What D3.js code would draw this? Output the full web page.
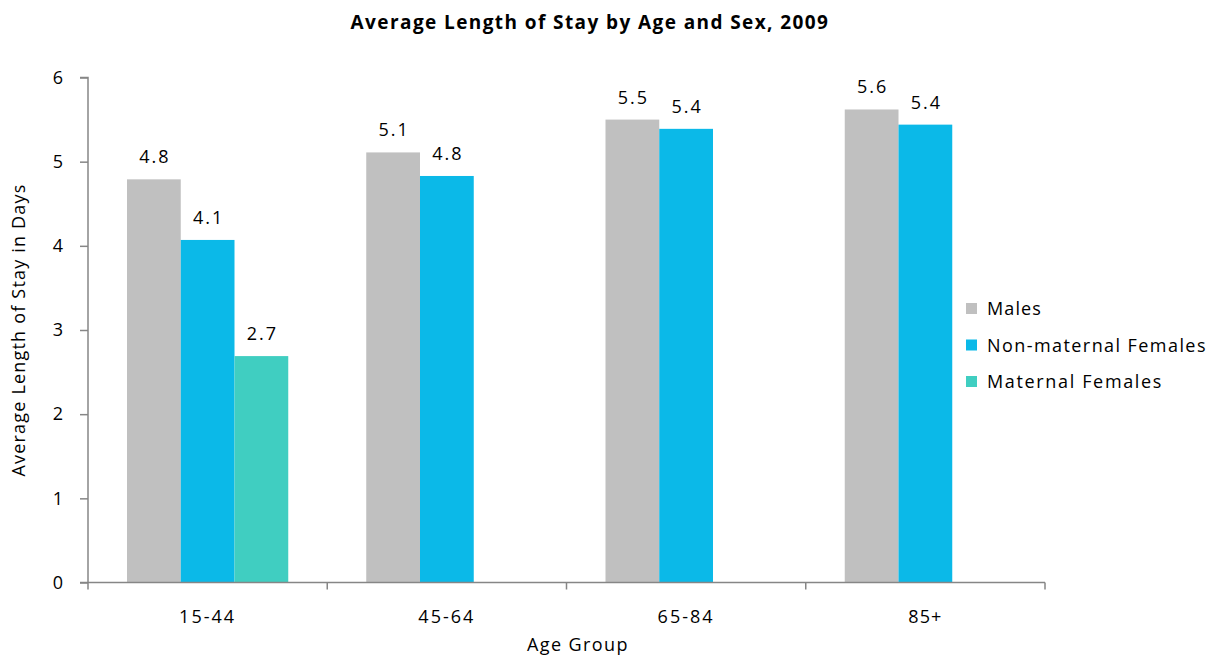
<!DOCTYPE html>
<html><head><meta charset="utf-8">
<script src="https://cdn.jsdelivr.net/npm/d3@7"></script>
<style>body{margin:0;background:#fff}svg{display:block}text{font-family:"Open Sans",Lato,sans-serif;fill:#000}</style>
</head><body><svg id="c" width="1212" height="655"></svg>
<script>
const categories = ["15-44","45-64","65-84","85+"];
const seriesNames = ["Males","Non-maternal Females","Maternal Females"];
const males = [4.79, 5.11, 5.5, 5.62];
const nonMaternal = [4.07, 4.83, 5.39, 5.44];
const maternal = [2.69, null, null, null];
const yTicks = [0,1,2,3,4,5,6];
const colors = ["#C0C0C0","#0BB9E8","#40CEC1"];
const seriesValues = [males, nonMaternal, maternal];

const svg = d3.select("#c");
const L = 88, R = 1045, T = 77.5, B = 582.5;
const x0 = d3.scaleBand().domain(categories).range([L, R]).padding(0);
const bw = x0.bandwidth();
const x1 = d3.scaleBand().domain(seriesNames).range([bw*0.163, bw*0.837]).padding(0);
const y = d3.scaleLinear().domain([0,6]).range([B, T]);

function fit(sel, target) {
  const n = sel.text().length;
  const w = sel.node().getComputedTextLength();
  sel.attr("letter-spacing", ((target - w) / n).toFixed(2));
}

// bars
categories.forEach((c, i) => {
  const g = svg.append("g");
  seriesNames.forEach((s, j) => {
    const v = seriesValues[j][i];
    if (v == null) return;
    const bx = x0(c) + x1(s);
    g.append("rect").attr("x", bx).attr("y", y(v)).attr("width", x1.bandwidth()).attr("height", B - y(v)).attr("fill", colors[j]);
    const t = g.append("text").attr("x", bx + x1.bandwidth()/2 + 1).attr("y", y(v) - 16).attr("text-anchor","middle").attr("font-size", 18).text(v.toFixed(1));
    fit(t, 31);
  });
});

// y axis
const ya = svg.append("g").attr("transform", `translate(${L},0)`).call(d3.axisLeft(y).tickValues(yTicks).tickSize(8).tickPadding(17).tickFormat(d3.format("d")));
ya.select(".domain").attr("stroke","#868686").attr("stroke-width",1.5).attr("d", `M-8,${T}H0V${B}`);
ya.selectAll(".tick line").attr("stroke","#868686").attr("stroke-width",1.5);
ya.selectAll(".tick text").attr("font-size",18).attr("font-family","'Open Sans', sans-serif").attr("fill","#000");

// x axis
const xa = svg.append("g").attr("transform", `translate(0,${B})`);
xa.append("line").attr("x1", L-8).attr("x2", R).attr("y1",0).attr("y2",0).attr("stroke","#868686").attr("stroke-width",1.5);
const bounds = categories.map(c => x0(c)).concat([R]);
xa.selectAll("line.tk").data(bounds).enter().append("line").attr("class","tk")
  .attr("x1", d=>d).attr("x2", d=>d).attr("y1",0).attr("y2",7).attr("stroke","#868686").attr("stroke-width",1.5);
xa.selectAll("text").data(categories).enter().append("text")
  .attr("x", d => x0(d) + bw/2).attr("y", 40).attr("text-anchor","middle").attr("font-size",18).text(d=>d)
  .each(function(){ fit(d3.select(this), d3.select(this).text().length * 11.4); });

// titles
const title = svg.append("text").attr("x", 590).attr("y", 29).attr("text-anchor","middle").attr("font-size",19).attr("font-weight","bold").text("Average Length of Stay by Age and Sex, 2009");
fit(title, 479);
const xl = svg.append("text").attr("x", 578).attr("y", 651).attr("text-anchor","middle").attr("font-size",18).text("Age Group");
fit(xl, 102);
const yl = svg.append("text").attr("transform","translate(25,330) rotate(-90)").attr("text-anchor","middle").attr("font-size",18).text("Average Length of Stay in Days");
fit(yl, 293);

// legend
const lg = svg.append("g");
seriesNames.forEach((s, j) => {
  const ly = 315 + j*36.5;
  lg.append("rect").attr("x", 966).attr("y", ly-12).attr("width",11).attr("height",11).attr("fill",colors[j]);
  const t = lg.append("text").attr("x", 987).attr("y", ly).attr("font-size",18).text(s);
  fit(t, s.length * 11);
});
</script></body></html>
